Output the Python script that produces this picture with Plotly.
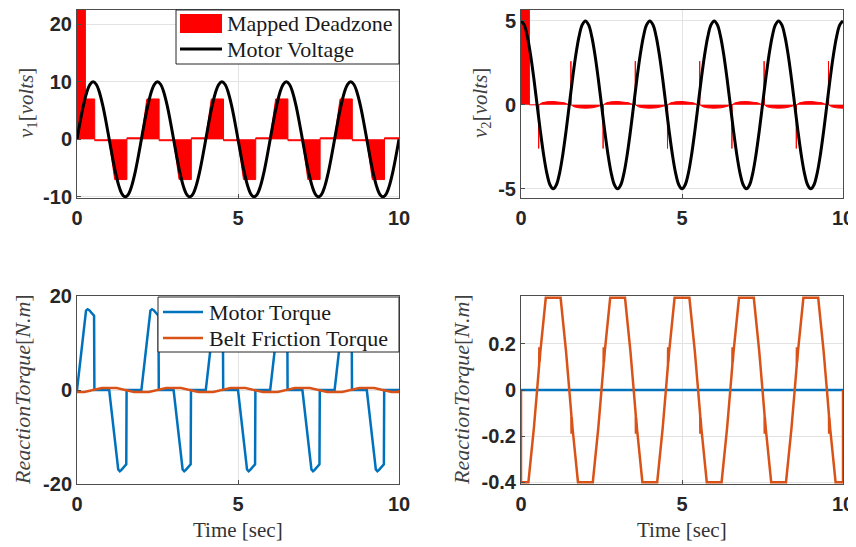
import plotly.graph_objects as go

# ---------------- data ----------------
t_grid = [0.0, 0.1, 0.2, 0.3, 0.4, 0.5, 0.6, 0.7, 0.8, 0.9,
          1.0, 1.1, 1.2, 1.3, 1.4, 1.5, 1.6, 1.7, 1.8, 1.9,
          2.0, 2.1, 2.2, 2.3, 2.4, 2.5, 2.6, 2.7, 2.8, 2.9,
          3.0, 3.1, 3.2, 3.3, 3.4, 3.5, 3.6, 3.7, 3.8, 3.9,
          4.0, 4.1, 4.2, 4.3, 4.4, 4.5, 4.6, 4.7, 4.8, 4.9,
          5.0, 5.1, 5.2, 5.3, 5.4, 5.5, 5.6, 5.7, 5.8, 5.9,
          6.0, 6.1, 6.2, 6.3, 6.4, 6.5, 6.6, 6.7, 6.8, 6.9,
          7.0, 7.1, 7.2, 7.3, 7.4, 7.5, 7.6, 7.7, 7.8, 7.9,
          8.0, 8.1, 8.2, 8.3, 8.4, 8.5, 8.6, 8.7, 8.8, 8.9,
          9.0, 9.1, 9.2, 9.3, 9.4, 9.5, 9.6, 9.7, 9.8, 9.9, 10.0]

motor_voltage_1 = [0, 3.09, 5.88, 8.09, 9.51, 10, 9.51, 8.09, 5.88, 3.09,
                   0, -3.09, -5.88, -8.09, -9.51, -10, -9.51, -8.09, -5.88, -3.09,
                   0, 3.09, 5.88, 8.09, 9.51, 10, 9.51, 8.09, 5.88, 3.09,
                   0, -3.09, -5.88, -8.09, -9.51, -10, -9.51, -8.09, -5.88, -3.09,
                   0, 3.09, 5.88, 8.09, 9.51, 10, 9.51, 8.09, 5.88, 3.09,
                   0, -3.09, -5.88, -8.09, -9.51, -10, -9.51, -8.09, -5.88, -3.09,
                   0, 3.09, 5.88, 8.09, 9.51, 10, 9.51, 8.09, 5.88, 3.09,
                   0, -3.09, -5.88, -8.09, -9.51, -10, -9.51, -8.09, -5.88, -3.09,
                   0, 3.09, 5.88, 8.09, 9.51, 10, 9.51, 8.09, 5.88, 3.09,
                   0, -3.09, -5.88, -8.09, -9.51, -10, -9.51, -8.09, -5.88, -3.09, 0]

motor_voltage_2 = [5, 4.76, 4.05, 2.94, 1.55, 0, -1.55, -2.94, -4.05, -4.76,
                   -5, -4.76, -4.05, -2.94, -1.55, 0, 1.55, 2.94, 4.05, 4.76,
                   5, 4.76, 4.05, 2.94, 1.55, 0, -1.55, -2.94, -4.05, -4.76,
                   -5, -4.76, -4.05, -2.94, -1.55, 0, 1.55, 2.94, 4.05, 4.76,
                   5, 4.76, 4.05, 2.94, 1.55, 0, -1.55, -2.94, -4.05, -4.76,
                   -5, -4.76, -4.05, -2.94, -1.55, 0, 1.55, 2.94, 4.05, 4.76,
                   5, 4.76, 4.05, 2.94, 1.55, 0, -1.55, -2.94, -4.05, -4.76,
                   -5, -4.76, -4.05, -2.94, -1.55, 0, 1.55, 2.94, 4.05, 4.76,
                   5, 4.76, 4.05, 2.94, 1.55, 0, -1.55, -2.94, -4.05, -4.76,
                   -5, -4.76, -4.05, -2.94, -1.55, 0, 1.55, 2.94, 4.05, 4.76, 5]

deadzone1_t = [0, 0.26, 0.261, 0.55, 0.551, 1.0, 1.17, 1.55, 1.551,
               2.0, 2.17, 2.55, 2.551, 3.0, 3.17, 3.55, 3.551,
               4.0, 4.17, 4.55, 4.551, 5.0, 5.17, 5.55, 5.551,
               6.0, 6.17, 6.55, 6.551, 7.0, 7.17, 7.55, 7.551,
               8.0, 8.17, 8.55, 8.551, 9.0, 9.17, 9.55, 9.551, 10.0]
deadzone1_v = [30, 30, 7, 7, -0.25, -0.25, -7, -7, 0.25,
               0.25, 7, 7, -0.25, -0.25, -7, -7, 0.25,
               0.25, 7, 7, -0.25, -0.25, -7, -7, 0.25,
               0.25, 7, 7, -0.25, -0.25, -7, -7, 0.25,
               0.25, 7, 7, -0.25, -0.25, -7, -7, 0.25, 0.25]

deadzone2_t = [0, 0.26, 0.261,
               0.545, 0.55, 0.555, 0.65, 0.8, 1.0, 1.2, 1.35, 1.47,
               1.545, 1.55, 1.555, 1.65, 1.8, 2.0, 2.2, 2.35, 2.47,
               2.545, 2.55, 2.555, 2.65, 2.8, 3.0, 3.2, 3.35, 3.47,
               3.545, 3.55, 3.555, 3.65, 3.8, 4.0, 4.2, 4.35, 4.47,
               4.545, 4.55, 4.555, 4.65, 4.8, 5.0, 5.2, 5.35, 5.47,
               5.545, 5.55, 5.555, 5.65, 5.8, 6.0, 6.2, 6.35, 6.47,
               6.545, 6.55, 6.555, 6.65, 6.8, 7.0, 7.2, 7.35, 7.47,
               7.545, 7.55, 7.555, 7.65, 7.8, 8.0, 8.2, 8.35, 8.47,
               8.545, 8.55, 8.555, 8.65, 8.8, 9.0, 9.2, 9.35, 9.47,
               9.545, 9.55, 9.555, 9.65, 9.8, 10.0]
deadzone2_v = [8, 8, 0,
               0, -2.6, 0, 0.12, 0.18, 0.2, 0.18, 0.12, 0.02,
               0, 2.6, 0, -0.12, -0.18, -0.2, -0.18, -0.12, -0.02,
               0, -2.6, 0, 0.12, 0.18, 0.2, 0.18, 0.12, 0.02,
               0, 2.6, 0, -0.12, -0.18, -0.2, -0.18, -0.12, -0.02,
               0, -2.6, 0, 0.12, 0.18, 0.2, 0.18, 0.12, 0.02,
               0, 2.6, 0, -0.12, -0.18, -0.2, -0.18, -0.12, -0.02,
               0, -2.6, 0, 0.12, 0.18, 0.2, 0.18, 0.12, 0.02,
               0, 2.6, 0, -0.12, -0.18, -0.2, -0.18, -0.12, -0.02,
               0, -2.6, 0, 0.12, 0.18, 0.2, 0.18, 0.12, 0.02,
               0, 2.6, 0, -0.12, -0.18, -0.2]

torque_t = [0.0, 0.24, 0.28, 0.33, 0.38, 0.53, 0.54, 1.0, 1.24, 1.28, 1.33, 1.38, 1.53, 1.54,
            2.0, 2.24, 2.28, 2.33, 2.38, 2.53, 2.54, 3.0, 3.24, 3.28, 3.33, 3.38, 3.53, 3.54,
            4.0, 4.24, 4.28, 4.33, 4.38, 4.53, 4.54, 5.0, 5.24, 5.28, 5.33, 5.38, 5.53, 5.54,
            6.0, 6.24, 6.28, 6.33, 6.38, 6.53, 6.54, 7.0, 7.24, 7.28, 7.33, 7.38, 7.53, 7.54,
            8.0, 8.24, 8.28, 8.33, 8.38, 8.53, 8.54, 9.0, 9.24, 9.28, 9.33, 9.38, 9.53, 9.54,
            10.0]
torque_v = [0, 15.8, 16.9, 17.2, 17.0, 15.8, 0, 0, -15.8, -16.9, -17.3, -17.0, -15.8, 0,
            0, 15.8, 16.9, 17.2, 17.0, 15.8, 0, 0, -15.8, -16.9, -17.3, -17.0, -15.8, 0,
            0, 15.8, 16.9, 17.2, 17.0, 15.8, 0, 0, -15.8, -16.9, -17.3, -17.0, -15.8, 0,
            0, 15.8, 16.9, 17.2, 17.0, 15.8, 0, 0, -15.8, -16.9, -17.3, -17.0, -15.8, 0,
            0, 15.8, 16.9, 17.2, 17.0, 15.8, 0, 0, -15.8, -16.9, -17.3, -17.0, -15.8, 0,
            0]

friction_t = [0.0, 0.0,
              0.23, 0.3, 0.4, 0.5, 0.565, 0.57, 0.575, 0.6, 0.7, 0.77,
              1.23, 1.3, 1.4, 1.5, 1.565, 1.57, 1.575, 1.6, 1.7, 1.77,
              2.23, 2.3, 2.4, 2.5, 2.565, 2.57, 2.575, 2.6, 2.7, 2.77,
              3.23, 3.3, 3.4, 3.5, 3.565, 3.57, 3.575, 3.6, 3.7, 3.77,
              4.23, 4.3, 4.4, 4.5, 4.565, 4.57, 4.575, 4.6, 4.7, 4.77,
              5.23, 5.3, 5.4, 5.5, 5.565, 5.57, 5.575, 5.6, 5.7, 5.77,
              6.23, 6.3, 6.4, 6.5, 6.565, 6.57, 6.575, 6.6, 6.7, 6.77,
              7.23, 7.3, 7.4, 7.5, 7.565, 7.57, 7.575, 7.6, 7.7, 7.77,
              8.23, 8.3, 8.4, 8.5, 8.565, 8.57, 8.575, 8.6, 8.7, 8.77,
              9.23, 9.3, 9.4, 9.5, 9.565, 9.57, 9.575, 9.6, 9.7, 9.77,
              10.0, 10.0]
friction_v = [0, -0.4,
              -0.4, -0.31, -0.165, 0, 0.11, 0.185, 0.12, 0.165, 0.31, 0.4,
              0.4, 0.31, 0.165, 0, -0.11, -0.19, -0.12, -0.165, -0.31, -0.4,
              -0.4, -0.31, -0.165, 0, 0.11, 0.185, 0.12, 0.165, 0.31, 0.4,
              0.4, 0.31, 0.165, 0, -0.11, -0.19, -0.12, -0.165, -0.31, -0.4,
              -0.4, -0.31, -0.165, 0, 0.11, 0.185, 0.12, 0.165, 0.31, 0.4,
              0.4, 0.31, 0.165, 0, -0.11, -0.19, -0.12, -0.165, -0.31, -0.4,
              -0.4, -0.31, -0.165, 0, 0.11, 0.185, 0.12, 0.165, 0.31, 0.4,
              0.4, 0.31, 0.165, 0, -0.11, -0.19, -0.12, -0.165, -0.31, -0.4,
              -0.4, -0.31, -0.165, 0, 0.11, 0.185, 0.12, 0.165, 0.31, 0.4,
              0.4, 0.31, 0.165, 0, -0.11, -0.19, -0.12, -0.165, -0.31, -0.4,
              -0.4, 0]

torque2_t = [0.0, 10.0]
torque2_v = [0, 0]

x_ticks = [0, 5, 10]
x_ticktext = ["0", "5", "10"]
y1_ticks = [-10, 0, 10, 20]
y1_ticktext = ["-10", "0", "10", "20"]
y2_ticks = [-5, 0, 5]
y2_ticktext = ["-5", "0", "5"]
y3_ticks = [-20, 0, 20]
y3_ticktext = ["-20", "0", "20"]
y4_ticks = [-0.4, -0.2, 0, 0.2]
y4_ticktext = ["-0.4", "-0.2", "0", "0.2"]

legend1_labels = ["Mapped Deadzone", "Motor Voltage"]
legend2_labels = ["Motor Torque", "Belt Friction Torque"]

# ---------------- styling ----------------
OFF = 8                       # page body margin of the browser
W, H = 856 - OFF, 547 - OFF   # figure size so that it ends at the window edge
RED = "#FF0000"
BLUE = "#0072BD"
ORANGE = "#D95319"
AXC = "#4d4d4d"
GRID = "#e3e3e3"
TICKFONT = dict(family="Liberation Sans, Arial, sans-serif", size=20, color="#262626", weight="bold")
SERIF = "Liberation Serif, Times New Roman, serif"


def px_x(p):
    return (p - OFF) / W


def px_y(p):
    return 1 - (p - OFF) / H


fig = go.Figure()

# top-left
fig.add_trace(go.Scatter(x=deadzone1_t, y=deadzone1_v, mode="lines", fill="tozeroy",
                         fillcolor=RED, line=dict(color=RED, width=1),
                         name=legend1_labels[0], xaxis="x", yaxis="y"))
fig.add_trace(go.Scatter(x=t_grid, y=motor_voltage_1, mode="lines",
                         line=dict(color="black", width=3, shape="spline", smoothing=1),
                         name=legend1_labels[1], xaxis="x", yaxis="y"))
# top-right
fig.add_trace(go.Scatter(x=deadzone2_t, y=deadzone2_v, mode="lines", fill="tozeroy",
                         fillcolor=RED, line=dict(color=RED, width=1),
                         name="Mapped Deadzone 2", xaxis="x2", yaxis="y2"))
fig.add_trace(go.Scatter(x=t_grid, y=motor_voltage_2, mode="lines",
                         line=dict(color="black", width=3, shape="spline", smoothing=1),
                         name="Motor Voltage 2", xaxis="x2", yaxis="y2"))
# bottom-left
fig.add_trace(go.Scatter(x=torque_t, y=torque_v, mode="lines",
                         line=dict(color=BLUE, width=2.5),
                         name=legend2_labels[0], xaxis="x3", yaxis="y3"))
fig.add_trace(go.Scatter(x=friction_t, y=friction_v, mode="lines",
                         line=dict(color=ORANGE, width=2.5),
                         name=legend2_labels[1], xaxis="x3", yaxis="y3"))
# bottom-right
fig.add_trace(go.Scatter(x=torque2_t, y=torque2_v, mode="lines",
                         line=dict(color=BLUE, width=2.5),
                         name="Motor Torque 2", xaxis="x4", yaxis="y4"))
fig.add_trace(go.Scatter(x=friction_t, y=friction_v, mode="lines",
                         line=dict(color=ORANGE, width=2.5),
                         name="Belt Friction Torque 2", xaxis="x4", yaxis="y4"))


def xax(dom, anchor):
    return dict(domain=dom, anchor=anchor, range=[0, 10], tickvals=x_ticks, ticktext=x_ticktext,
                showline=True, mirror=True, linecolor=AXC, linewidth=1,
                ticks="inside", ticklen=4, tickcolor=AXC, automargin=False,
                showgrid=True, gridcolor=GRID, zeroline=False, tickfont=TICKFONT, ticklabelstandoff=2)


def yax(dom, anchor, rng, tv, tt):
    return dict(domain=dom, anchor=anchor, range=rng, tickvals=tv, ticktext=tt,
                showline=True, mirror=True, linecolor=AXC, linewidth=1,
                ticks="inside", ticklen=4, tickcolor=AXC, automargin=False,
                showgrid=True, gridcolor=GRID, zeroline=False, tickfont=TICKFONT)


xL = [px_x(77), px_x(399)]
xR = [px_x(521), px_x(843)]
yT = [px_y(198), px_y(10)]
yB = [px_y(484), px_y(296)]

fig.update_layout(
    width=W, height=H,
    margin=dict(l=0, r=0, t=0, b=0, autoexpand=False),
    paper_bgcolor="white", plot_bgcolor="white",
    showlegend=False,
    xaxis=xax(xL, "y"),
    yaxis=yax(yT, "x", [-10.2, 22.45], y1_ticks, y1_ticktext),
    xaxis2=xax(xR, "y2"),
    yaxis2=yax(yT, "x2", [-5.55, 5.65], y2_ticks, y2_ticktext),
    xaxis3=xax(xL, "y3"),
    yaxis3=yax(yB, "x3", [-20, 20], y3_ticks, y3_ticktext),
    xaxis4=xax(xR, "y4"),
    yaxis4=yax(yB, "x4", [-0.408, 0.408], y4_ticks, y4_ticktext),
)

# ---- legends drawn as boxes (page pixel positions) ----
shapes = []


def rect(x0, y0, x1, y1, fill, line_color, lw):
    return dict(type="rect", xref="paper", yref="paper", layer="above",
                x0=px_x(x0), x1=px_x(x1), y0=px_y(y1), y1=px_y(y0),
                fillcolor=fill, line=dict(color=line_color, width=lw))


def hline(x0, x1, y, color, lw):
    return dict(type="line", xref="paper", yref="paper", layer="above",
                x0=px_x(x0), x1=px_x(x1), y0=px_y(y), y1=px_y(y),
                line=dict(color=color, width=lw))


shapes.append(rect(176, 10, 399, 64, "white", "#262626", 1))
shapes.append(rect(180, 14, 222, 33, RED, RED, 0))
shapes.append(hline(180, 222, 49, "black", 3))
shapes.append(rect(158, 297, 399, 352, "white", "#262626", 1))
shapes.append(hline(163, 203, 312, BLUE, 2.5))
shapes.append(hline(163, 203, 338, ORANGE, 2.5))

leg_font = dict(family=SERIF, size=22, color="#1a1a1a")
annotations = [
    dict(text=legend1_labels[0], x=px_x(225), y=px_y(23), xanchor="left", font=leg_font),
    dict(text=legend1_labels[1], x=px_x(225), y=px_y(49), xanchor="left", font=leg_font),
    dict(text=legend2_labels[0], x=px_x(207), y=px_y(312), xanchor="left", font=leg_font),
    dict(text=legend2_labels[1], x=px_x(207), y=px_y(338), xanchor="left", font=leg_font),
]

vfont = dict(family=SERIF, size=21, color="#404040")
rfont = dict(family=SERIF, size=22, color="#404040")
tfont = dict(family=SERIF, size=21, color="#333333")
annotations += [
    dict(text="<i>v</i><sub>1</sub>[<i>volts</i>]", x=px_x(27), y=px_y(103), textangle=-90, font=vfont),
    dict(text="<i>v</i><sub>2</sub>[<i>volts</i>]", x=px_x(481), y=px_y(103), textangle=-90, font=vfont),
    dict(text="<i>ReactionTorque</i>[<i>N.m</i>]", x=px_x(22), y=px_y(390), textangle=-90, font=rfont),
    dict(text="<i>ReactionTorque</i>[<i>N.m</i>]", x=px_x(461), y=px_y(390), textangle=-90, font=rfont),
    dict(text="Time [sec]", x=px_x(238), y=px_y(530), font=tfont),
    dict(text="Time [sec]", x=px_x(682), y=px_y(530), font=tfont),
]
for a in annotations:
    a.setdefault("xanchor", "center")
    a.update(xref="paper", yref="paper", showarrow=False, yanchor="middle")

fig.update_layout(shapes=shapes, annotations=annotations)

fig.write_html("out.html")
